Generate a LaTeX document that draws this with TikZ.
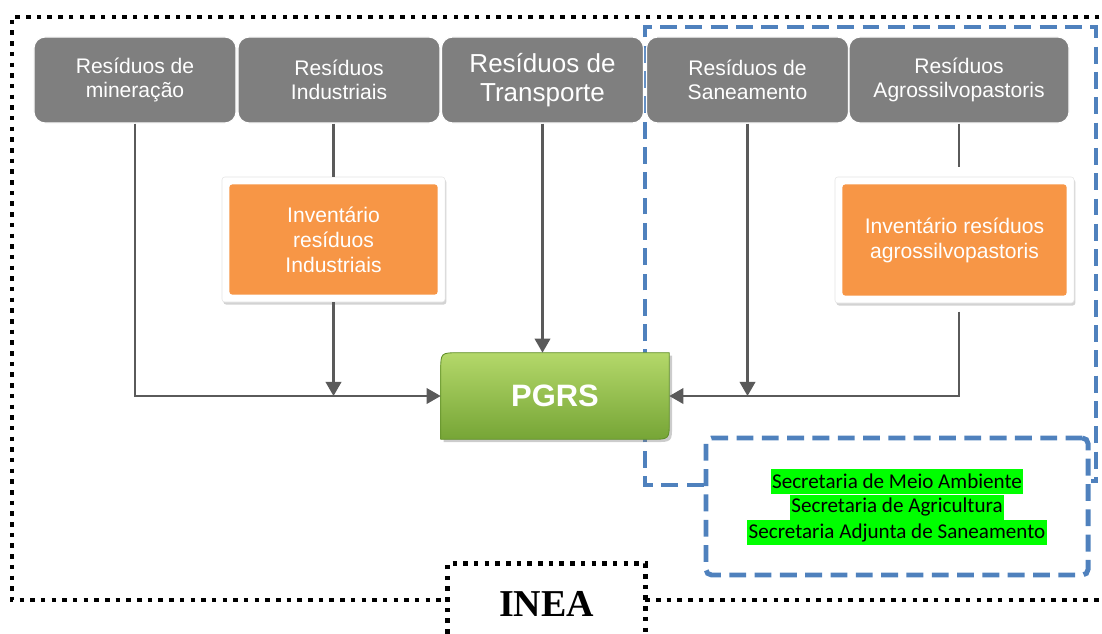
\documentclass[tikz,border=0pt]{standalone}
\usepackage{amsmath,amssymb}
\usepackage{tikz}
\usepackage{xcolor}
\usepackage{fontspec}
\setsansfont{Liberation Sans}
\newfontfamily\calibrifont{Carlito}
\newfontfamily\cambriafont{Liberation Serif}
\usetikzlibrary{positioning,arrows.meta,shapes,calc,shadows,backgrounds}

\definecolor{boxgray}{HTML}{7F7F7F}
\definecolor{invorange}{HTML}{F79646}
\definecolor{linegray}{HTML}{5A5A5A}
\definecolor{dashblue}{HTML}{4F81BD}
\definecolor{hlgreen}{HTML}{00FF00}
\definecolor{pgrstop}{HTML}{B4D86A}
\definecolor{pgrsbottom}{HTML}{76A536}
\definecolor{pgrsedge}{HTML}{618F2A}

\tikzset{
  residuo/.style={rectangle, rounded corners=8pt, fill=boxgray, draw=white, line width=0.8pt,
    text=white, align=center, minimum width=5.05cm, minimum height=2.15cm,
    font=\sffamily\fontsize{15}{17}\selectfont},
  inventario/.style={rectangle, rounded corners=2pt, fill=white, draw=black!10, line width=0.4pt,
    drop shadow={opacity=0.35, shadow xshift=1pt, shadow yshift=-1.8pt},
    text=white, align=center, minimum height=3.125cm,
    font=\sffamily\fontsize{15}{17.8}\selectfont,
    path picture={\fill[invorange] ($(path picture bounding box.south west)+(5.3pt,5.3pt)$)
      rectangle ($(path picture bounding box.north east)+(-5.3pt,-5.3pt)$);}},
  conn/.style={draw=linegray, line width=1.6pt},
  arrow/.style={conn, -{Triangle[width=11pt,length=10pt]}},
  pgrsnode/.style={minimum width=5.7cm, minimum height=2.15cm, text=white,
    font=\sffamily\bfseries\fontsize{22}{26}\selectfont},
  blueframe/.style={draw=dashblue, line width=3.5pt, dash pattern=on 12pt off 6pt},
  secbox/.style={blueframe, rounded corners=4pt, minimum width=9.55cm, minimum height=3.425cm},
  hl/.style={fill=hlgreen, inner xsep=1pt, inner ysep=0pt, minimum height=0.625cm,
    font=\calibrifont\fontsize{15}{18}\selectfont},
  dotline/.style={draw=black, line width=3.2pt, dash pattern=on 3.2pt off 4.4pt},
  ineabox/.style={minimum width=4.925cm, minimum height=2.0cm,
    font=\cambriafont\bfseries\fontsize{27}{30}\selectfont}
}

\begin{document}
\begin{tikzpicture}[x=0.025cm, y=-0.025cm]
    \useasboundingbox (0,0) rectangle (1102,633);

    % Residue sources along the top
    \node[residuo] (min) at (135,80) {Resíduos de\\mineração};
    \node[residuo] (ind) at (339,80) {Resíduos\\Industriais};
    \node[residuo, font=\sffamily\fontsize{18.5}{20.6}\selectfont] (tra) at (542.5,80) {Resíduos de\\Transporte};
    \node[residuo] (san) at (747.5,80) {Resíduos de\\Saneamento};
    \node[residuo, minimum width=5.5cm] (agr) at (959,80) {Resíduos\\Agrossilvopastoris};

    % Inventories
    \node[inventario, minimum width=5.575cm] (invind) at (333.5,239.5) {Inventário\\resíduos\\Industriais};
    \node[inventario, minimum width=5.975cm, minimum height=3.15cm] (invagr) at (954.5,240) {Inventário resíduos\\agrossilvopastoris};

    % Plan in the middle
    \node[pgrsnode] (pgrs) at (555,396) {PGRS};

    % Secretarias
    \node[secbox] (sec) at (897,506.5) {};
    \node[hl] (sec2) at (897,507) {Secretaria de Agricultura};
    \node[hl, above=0pt of sec2] (sec1) {Secretaria de Meio Ambiente};
    \node[hl, below=0pt of sec2] (sec3) {Secretaria Adjunta de Saneamento};

    % INEA label at the bottom
    \node[ineabox] (inea) at (546.5,604) {INEA};

    % Connectors
    \draw[arrow] (min.south) |- (pgrs.west);
    \draw[conn] (ind.south -| invind.north) -- (invind.north);
    \draw[arrow] (invind.south) -- (invind.south |- pgrs.west);
    \draw[arrow] (tra.south) -- (tra.south |- pgrs.north);
    \draw[arrow] (san.south) -- (san.south |- pgrs.west);
    \draw[conn, shorten >=7pt] (agr.south) -- (agr.south |- invagr.north);
    \draw[arrow, shorten <=6pt] (agr.south |- invagr.south) -- (agr.south |- pgrs.east) -- (pgrs.east);

    % Dotted frame with the INEA tab
    \draw[dotline] (1110,17) -- (12,17) -- (12,600) -- (inea.west |- 0,600);
    \draw[dotline] (inea.east |- 0,600) -- (1110,600);
    \draw[dotline] (inea.south west) -- (inea.north west) -- (inea.north east) -- (inea.south east);

    \begin{scope}[on background layer]
        % Dashed region of the state secretarias
        \draw[blueframe] (sec.west |- 0,485) -- (645,485) -- (645,27) -- (1096,27) -- (1096,481) -- (sec.east |- 0,481);
        % Green PGRS block
        \shadedraw[top color=pgrstop, bottom color=pgrsbottom, draw=pgrsedge, line width=0.6pt,
            drop shadow={opacity=0.4, shadow xshift=2pt, shadow yshift=-2pt}]
            ($(pgrs.north west)+(0,-13pt)$) .. controls (pgrs.north west) .. ($(pgrs.north west)+(13pt,0)$)
            -- (pgrs.north east) -- ($(pgrs.south east)+(0,13pt)$)
            .. controls (pgrs.south east) .. ($(pgrs.south east)+(-13pt,0)$)
            -- (pgrs.south west) -- cycle;
    \end{scope}
\end{tikzpicture}
\end{document}
